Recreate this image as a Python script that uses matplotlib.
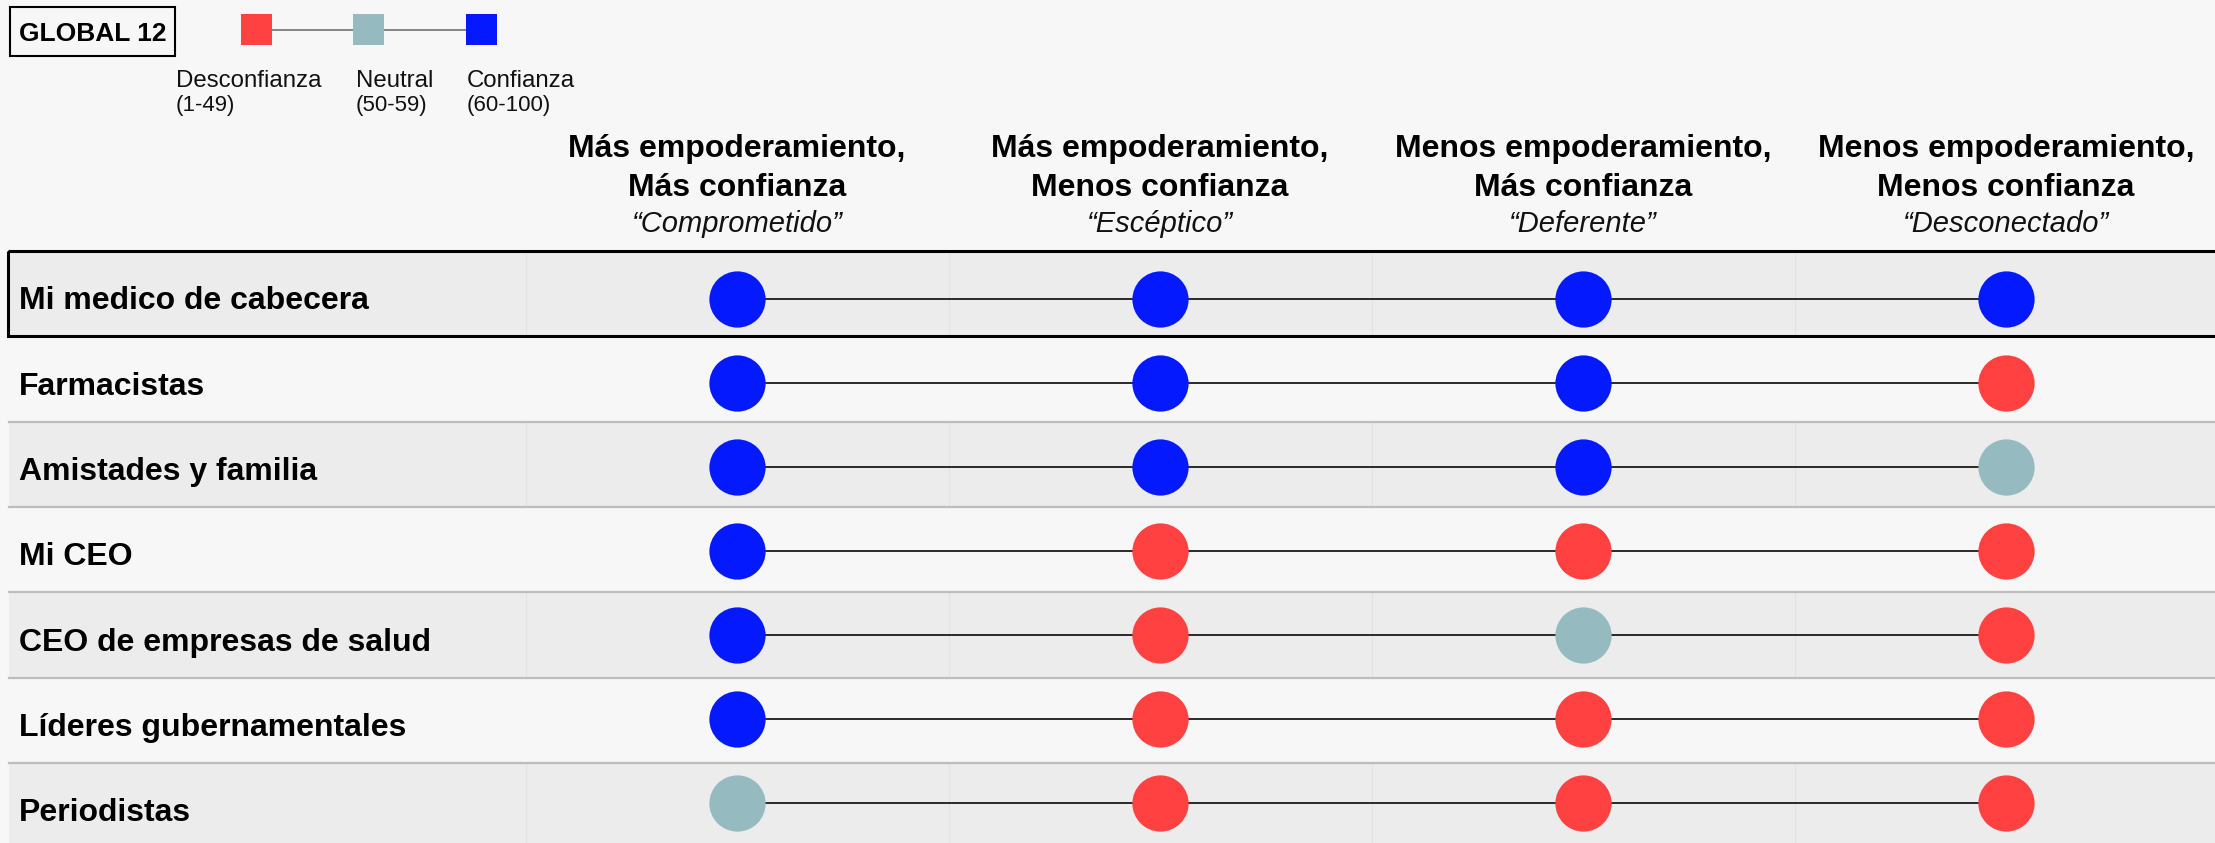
import matplotlib
matplotlib.use("Agg")
import matplotlib.pyplot as plt
from matplotlib.patches import Rectangle
from matplotlib.transforms import blended_transform_factory, offset_copy

# ---------------- data ----------------
categories = ["Mi medico de cabecera", "Farmacistas", "Amistades y familia",
              "Mi CEO", "CEO de empresas de salud", "Líderes gubernamentales",
              "Periodistas"]
segment_titles = ["Más empoderamiento,", "Más empoderamiento,",
                  "Menos empoderamiento,", "Menos empoderamiento,"]
segment_subtitles = ["Más confianza", "Menos confianza",
                     "Más confianza", "Menos confianza"]
segment_names = ["\u201cComprometido\u201d", "\u201cEscéptico\u201d",
                 "\u201cDeferente\u201d", "\u201cDesconectado\u201d"]
trust_levels = ["Desconfianza", "Neutral", "Confianza"]
trust_ranges = ["(1-49)", "(50-59)", "(60-100)"]

comprometido = ["Confianza", "Confianza", "Confianza", "Confianza", "Confianza", "Confianza", "Neutral"]
esceptico = ["Confianza", "Confianza", "Confianza", "Desconfianza", "Desconfianza", "Desconfianza", "Desconfianza"]
deferente = ["Confianza", "Confianza", "Confianza", "Desconfianza", "Neutral", "Desconfianza", "Desconfianza"]
desconectado = ["Confianza", "Desconfianza", "Neutral", "Desconfianza", "Desconfianza", "Desconfianza", "Desconfianza"]
series = [comprometido, esceptico, deferente, desconectado]

level_colors = {"Desconfianza": "#ff4141", "Neutral": "#95bac0", "Confianza": "#0519ff"}

# ---------------- figure ----------------
plt.rcParams['font.family'] = ['Liberation Sans', 'DejaVu Sans']
W, H, DPI = 2215, 843, 100
BG = "#f7f7f7"
SHADE = "#ececec"
fig = plt.figure(figsize=(W / DPI, H / DPI), dpi=DPI, facecolor=BG)

table_top = 251          # px from top
row_h = 85.3             # px (row stripes)
dot_first = 299          # px centre of first row of dots
dot_step = 84            # px between rows of dots
col0 = 737               # px centre of first column
col_step = 423           # px between columns

n_rows = len(categories)
n_cols = len(series)
tbl_left = 9 / W
axes_rect = [0, 0, 1, (H - table_top) / H]
xlim = (-col0 / col_step, (W - col0) / col_step)
span_px = H - table_top

# background axes: stripes, separators, box, labels
ax = fig.add_axes(axes_rect)
ax.set_axis_off()
ax.set_xlim(*xlim)
ax.set_ylim(-0.5 + span_px / row_h, -0.5)

for r in range(n_rows):
    shaded = (r % 2 == 0)
    ax.axhspan(r - 0.5, r + 0.5, xmin=tbl_left, xmax=1,
               color=SHADE if shaded else BG, lw=0, zorder=0)
    if shaded:
        for c in range(n_cols):
            ax.vlines(c - 0.5, r - 0.5, r + 0.5, color="#e2e2e2", lw=0.8, zorder=0.5)

for r in range(1, n_rows):
    ax.axhline(r + 0.5, xmin=tbl_left, xmax=1, color="#bdbdbd", lw=1.6, zorder=1)

box = ax.axhspan(-0.5, 0.5, xmin=8 / W, xmax=1.01, fill=False,
                 edgecolor="black", lw=2.2, zorder=3)
box.set_clip_on(False)

lab_tr = offset_copy(blended_transform_factory(ax.transAxes, ax.transData),
                     fig=fig, y=-11.4, units='points')
for r, name in enumerate(categories):
    ax.text(19 / W, r, name, transform=lab_tr, fontsize=23,
            fontweight='bold', va='baseline', ha='left', color='black',
            zorder=5)

# foreground axes: dots and lines
fx = fig.add_axes(axes_rect, zorder=2)
fx.set_axis_off()
fx.patch.set_alpha(0)
fx.set_xlim(*xlim)
top = -(dot_first - table_top) / dot_step
fx.set_ylim(top + span_px / dot_step, top)

xs = list(range(n_cols))
for r in range(n_rows):
    fx.plot(xs, [r] * n_cols, color="#1a1a1a", lw=1.3, zorder=2,
            solid_capstyle='butt')
    for c in range(n_cols):
        fx.scatter([c], [r], s=1640, color=level_colors[series[c][r]],
                   linewidths=0, zorder=4)

# column headers
hdr_tr = blended_transform_factory(fx.transData, fig.transFigure)
for c in range(n_cols):
    fx.text(c, 1 - 157 / H, segment_titles[c], transform=hdr_tr, fontsize=23,
            fontweight='bold', ha='center', va='baseline', clip_on=False)
    fx.text(c, 1 - 196 / H, segment_subtitles[c], transform=hdr_tr, fontsize=23,
            fontweight='bold', ha='center', va='baseline', clip_on=False)
    fx.text(c, 1 - 232 / H, segment_names[c], transform=hdr_tr, fontsize=21,
            fontstyle='italic', ha='center', va='baseline', color='#111111',
            clip_on=False)

# ---------------- legend ----------------
lg = fig.add_axes([0, 0, 1, 1], zorder=-1)
lg.set_axis_off()
lg.set_xlim(0, W)
lg.set_ylim(H, 0)

lg.add_patch(Rectangle((10, 7), 165, 49, fill=False, edgecolor='black', lw=1.5))
lg.text(92.5, 41, "GLOBAL 12", fontsize=19, fontweight='bold',
        ha='center', va='baseline')

sq_x0, sq_step, sq_size, sq_y = 241, 112.5, 31, 14
lg.plot([sq_x0 + sq_size / 2, sq_x0 + sq_step * 2 + sq_size / 2],
        [sq_y + sq_size / 2] * 2, color="#666666", lw=1.1, zorder=1)
label_x = [176, 356, 467]
for i, lev in enumerate(trust_levels):
    lg.add_patch(Rectangle((sq_x0 + sq_step * i, sq_y), sq_size, sq_size,
                           color=level_colors[lev], lw=0, zorder=2))
    lg.text(label_x[i], 87, lev, fontsize=17.3, ha='left', va='baseline',
            color='#111111')
    lg.text(label_x[i], 111, trust_ranges[i], fontsize=16, ha='left',
            va='baseline', color='#111111')

fig.savefig("out.png", dpi=DPI, facecolor=BG)
